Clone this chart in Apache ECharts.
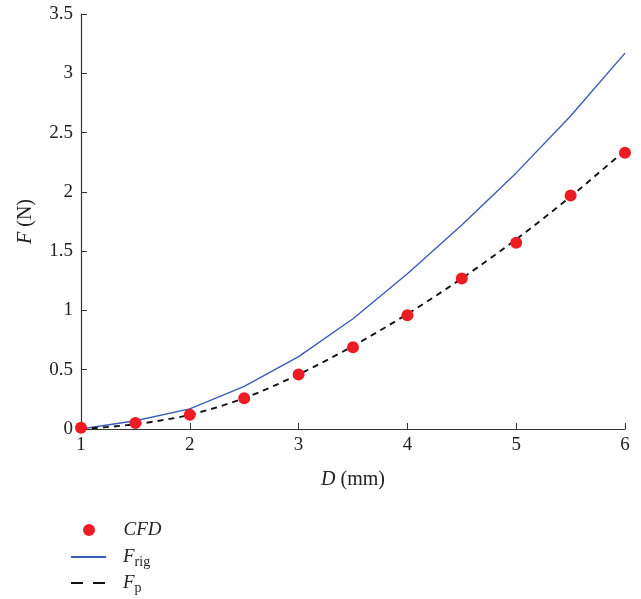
<!DOCTYPE html>
<html>
<head>
<meta charset="utf-8">
<script src="https://cdn.jsdelivr.net/npm/echarts@6/dist/echarts.min.js"></script>
<style>html,body{margin:0;padding:0;background:#fff}#c{width:641px;height:599px}</style>
</head>
<body>
<div id="c"></div>
<script>
const D = [1, 1.5, 2, 2.5, 3, 3.5, 4, 4.5, 5, 5.5, 6];
const cfd = [0.01, 0.05, 0.12, 0.26, 0.46, 0.69, 0.96, 1.27, 1.57, 1.97, 2.33];
const frig = [0.0, 0.07, 0.17, 0.36, 0.61, 0.93, 1.31, 1.72, 2.16, 2.64, 3.17];
const fp = [0.0, 0.04, 0.12, 0.26, 0.46, 0.70, 0.97, 1.27, 1.60, 1.96, 2.35];

const pairs = (xs, ys) => xs.map((x, i) => [x, ys[i]]);
const font = 'Liberation Serif';
const axisColor = '#333';
const txt = '#222';

const legendText = {
  fontFamily: font, fontSize: 19, color: txt, padding: [0, 0, 0, 12], lineHeight: 20,
  rich: {
    i: { fontStyle: 'italic', fontFamily: font, fontSize: 19, color: txt, lineHeight: 20 },
    s: { fontFamily: font, fontSize: 14, color: txt, lineHeight: 20, padding: [10, 0, 0, 0] }
  }
};
const legendFmt = function (n) {
  if (n === 'CFD') return '{i|CFD}';
  if (n === 'Frig') return '{i|F}{s|rig}';
  return '{i|F}{s|p}';
};
const mkLegend = (left, top, item) => ({
  orient: 'vertical', left: left, top: top, padding: 0,
  itemWidth: 35, itemHeight: 12,
  textStyle: legendText, formatter: legendFmt, data: [item]
});

const chart = echarts.init(document.getElementById('c'));
chart.setOption({
  animation: false,
  textStyle: { fontFamily: font },
  grid: { left: 81, right: 16, top: 14, bottom: 170, containLabel: false },
  xAxis: {
    type: 'value', min: 1, max: 6, interval: 1,
    name: '{i|D} (mm)', nameLocation: 'middle', nameGap: 41,
    nameTextStyle: { fontFamily: font, fontSize: 20, color: txt,
      rich: { i: { fontStyle: 'italic', fontFamily: font, fontSize: 20, color: txt } } },
    axisLine: { show: true, lineStyle: { color: axisColor, width: 1.2 } },
    axisTick: { show: true, inside: true, length: 6, lineStyle: { color: axisColor } },
    axisLabel: { fontFamily: font, fontSize: 19, color: txt, margin: 7 },
    splitLine: { show: false }
  },
  yAxis: {
    type: 'value', min: 0, max: 3.5, interval: 0.5,
    name: '{i|F} (N)', nameLocation: 'middle', nameGap: 45, nameRotate: 90,
    nameTextStyle: { fontFamily: font, fontSize: 20, color: txt,
      rich: { i: { fontStyle: 'italic', fontFamily: font, fontSize: 20, color: txt } } },
    axisLine: { show: true, lineStyle: { color: axisColor, width: 1.2 } },
    axisTick: { show: true, inside: true, length: 6, lineStyle: { color: axisColor } },
    axisLabel: { fontFamily: font, fontSize: 19, color: txt, margin: 8 },
    splitLine: { show: false }
  },
  legend: [
    mkLegend(83, 520, { name: 'CFD', icon: 'circle', itemStyle: { color: '#ed1c24' } }),
    mkLegend(70, 545, { name: 'Frig', icon: 'inherit', itemStyle: { opacity: 0 } }),
    mkLegend(70, 571, { name: 'Fp', icon: 'inherit', itemStyle: { opacity: 0 }, lineStyle: { type: [12, 10], width: 2 } })
  ],
  series: [
    {
      name: 'Frig', type: 'line', data: pairs(D, frig), symbol: 'none',
      lineStyle: { color: '#3b5cb8', width: 1.4 }, itemStyle: { color: '#3b5cb8' }, z: 2
    },
    {
      name: 'Fp', type: 'line', data: pairs(D, fp), symbol: 'none', smooth: 0.3,
      lineStyle: { color: '#111', width: 1.9, type: [6, 5] }, itemStyle: { color: '#111' }, z: 3
    },
    {
      name: 'CFD', type: 'scatter', data: pairs(D, cfd), symbol: 'circle', symbolSize: 12,
      itemStyle: { color: '#ed1c24', opacity: 1 }, z: 4
    }
  ]
});
</script>
</body>
</html>
